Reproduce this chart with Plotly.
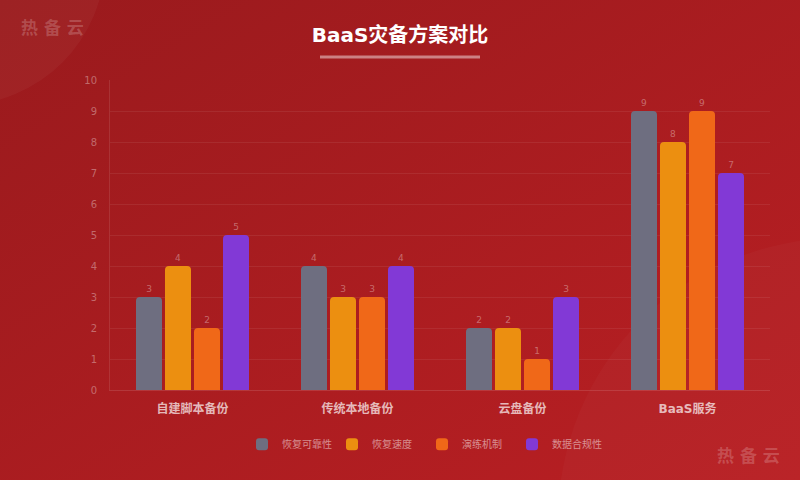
import base64
import plotly.graph_objects as go

# --- data ---
categories = ["自建脚本备份", "传统本地备份", "云盘备份", "BaaS服务"]
series_names = ["恢复可靠性", "恢复速度", "演练机制", "数据合规性"]
reliability = [3, 4, 2, 9]
speed = [4, 3, 2, 8]
drill = [2, 3, 1, 9]
compliance = [5, 4, 3, 7]
y_ticks = [0, 1, 2, 3, 4, 5, 6, 7, 8, 9, 10]

series_values = [reliability, speed, drill, compliance]
colors = ["#6e6e80", "#ec8f10", "#f06818", "#8239d6"]

FONT = "DejaVu Sans, Noto Sans CJK SC, sans-serif"

# --- background (gradient + faint decorations) ---
bg_svg = """<svg xmlns='http://www.w3.org/2000/svg' width='800' height='480'>
<defs><linearGradient id='g' x1='0' y1='0' x2='1' y2='1'>
<stop offset='0' stop-color='#9a1a1d'/><stop offset='1' stop-color='#b91f23'/>
</linearGradient></defs>
<rect width='800' height='480' fill='url(#g)'/>
<circle cx='-40' cy='-40' r='145' fill='rgba(255,255,255,0.035)'/>
<circle cx='840' cy='520' r='282' fill='rgba(255,255,255,0.025)'/>
</svg>"""
bg_src = "data:image/svg+xml;base64," + base64.b64encode(bg_svg.encode()).decode()

fig = go.Figure()

for name, vals, col in zip(series_names, series_values, colors):
    fig.add_trace(go.Bar(
        x=categories, y=vals, name=name,
        marker=dict(color=col, line=dict(width=0), cornerradius=4),
        text=[str(v) for v in vals], textposition="outside",
        textfont=dict(size=9, color="rgba(255,255,255,0.35)"),
        cliponaxis=False,
    ))

ml, mr, mt, mb = 110, 30, 80, 90
pw, ph = 800 - ml - mr, 480 - mt - mb

fig.update_layout(
    width=800, height=480,
    margin=dict(l=ml, r=mr, t=mt, b=mb),
    paper_bgcolor="#a91c20", plot_bgcolor="rgba(0,0,0,0)",
    font=dict(family=FONT),
    barmode="group", bargap=0.297, bargroupgap=0.103,
    showlegend=True,
    legend=dict(orientation="h", x=(242 - ml) / pw, xanchor="left", y=-0.175, yanchor="middle",
                font=dict(size=10, color="rgba(255,255,255,0.5)"),
                itemwidth=30, entrywidth=45, traceorder="normal", bgcolor="rgba(0,0,0,0)"),
    title=dict(text="<b>BaaS灾备方案对比</b>", x=0.5, xref="container", xanchor="center",
               y=1 - 35 / 480, yanchor="middle",
               font=dict(size=20, color="#ffffff", family=FONT)),
    xaxis=dict(showgrid=False, showline=True, linecolor="rgba(255,255,255,0.12)",
               ticks="", tickfont=dict(size=12, color="rgba(255,255,255,0.7)"),
               tickvals=categories, ticktext=["<b>%s</b>" % c for c in categories],
               ticklabelstandoff=8),
    yaxis=dict(range=[0, 10], tickvals=y_ticks, showgrid=True,
               gridcolor="rgba(255,255,255,0.07)", showline=True,
               linecolor="rgba(255,255,255,0.10)", zeroline=False, ticks="",
               tickfont=dict(size=10, color="rgba(255,255,255,0.35)"),
               ticklabelstandoff=10),
    images=[dict(source=bg_src, xref="paper", yref="paper",
                 x=-ml / pw, y=1 + mt / ph, sizex=800 / pw, sizey=480 / ph,
                 xanchor="left", yanchor="top", sizing="stretch", layer="below")],
    shapes=[dict(type="line", xref="paper", yref="paper",
                 x0=(320 - ml) / pw, x1=(480 - ml) / pw,
                 y0=1 + (80 - 57) / ph, y1=1 + (80 - 57) / ph,
                 line=dict(color="rgba(255,255,255,0.45)", width=3))],
    annotations=[
        dict(text="<b>热 备 云</b>", xref="paper", yref="paper",
             x=(52 - ml) / pw, y=1 + (80 - 28) / ph, showarrow=False,
             xanchor="center", yanchor="middle",
             font=dict(size=17, color="rgba(255,255,255,0.2)")),
        dict(text="<b>热 备 云</b>", xref="paper", yref="paper",
             x=(748 - ml) / pw, y=1 - (456 - 80) / ph, showarrow=False,
             xanchor="center", yanchor="middle",
             font=dict(size=17, color="rgba(255,255,255,0.2)")),
    ],
)

fig.write_html("out.html", config={"displayModeBar": False},
               post_script="document.body.style.margin='0';document.body.style.overflow='hidden';")
